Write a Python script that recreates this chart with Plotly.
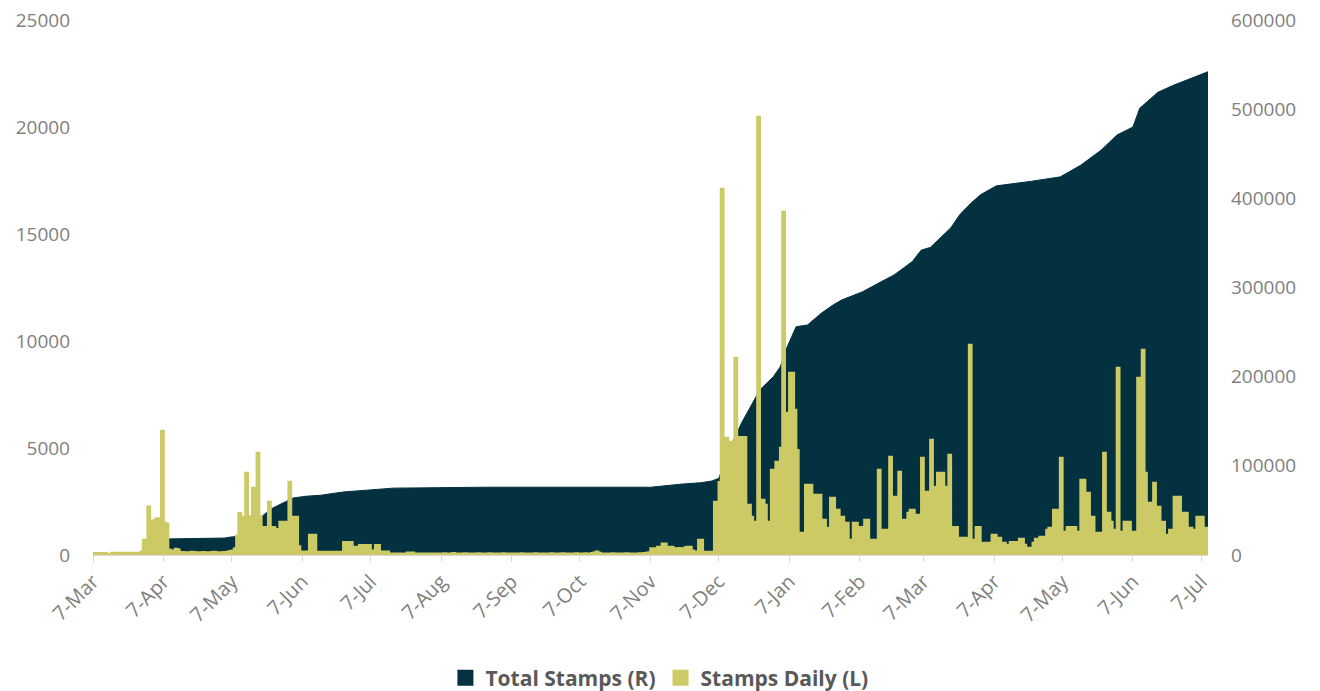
import plotly.graph_objects as go
import pandas as pd

# ─── COLOURS ──────────────────────────────────────────────────
TEAL = "#033140"
OLIVE = "#CCCA64"
TICK_GREY = "#7F7F7F"
TEXT_GREY = "#595959"
AXIS_GREY = "#D9D9D9"
FONT = "Open Sans"

# ─── DATA ─────────────────────────────────────────────────────
START_DATE = "2020-03-07"
END_DATE = "2021-07-10"

# stamps per day (left axis), one value per day from 7-Mar-2020, split by month (7th..6th)
daily_mar = [80, 80, 80, 80, 80, 80, 30, 30,
             90, 90, 90, 90, 90, 90, 90, 90, 90, 90, 90, 90, 90,
             150, 700, 700, 2250, 1600, 1600, 1650, 1700, 1700, 5800]
daily_apr = [1500, 1450, 250, 150, 200, 280, 250,
             120, 130, 120, 110, 120, 140, 130, 120, 110, 120, 130, 120,
             110, 120, 130, 140, 120, 110, 120, 130, 120, 150, 180]
daily_may = [200, 300, 900, 1950, 1780, 1780, 3830, 1800, 1300, 3130,
             3130, 4770, 1800, 1300, 1300, 1300, 2480, 1300, 1300, 1200,
             1200, 1540, 1200, 1540, 1540, 3410, 1780, 1780, 1780, 400, 150]
daily_jun = [150, 150, 150, 930, 930, 930,
             140, 140, 140, 140, 140, 140, 140, 140, 140, 140, 140, 140,
             600, 600, 600, 600, 370, 370, 370, 450, 450, 450, 300, 450]
daily_jul = [200, 200, 450, 450, 150, 150, 150, 150, 60, 60,
             60, 60, 60, 60, 60, 60, 100, 100, 100, 60,
             60, 60, 60, 60, 60, 60, 60, 60, 60, 60, 60]
daily_aug = [60, 70, 60, 50, 60, 80, 60, 60, 50, 60,
             70, 60, 60, 50, 60, 60, 70, 60, 50, 60,
             60, 70, 60, 60, 50, 60, 60, 70, 60, 60, 50]
daily_sep = [60, 60, 50, 60, 70, 60, 60, 50, 60, 60,
             70, 60, 60, 50, 60, 60, 60, 70, 60, 50,
             60, 60, 70, 60, 60, 50, 60, 60, 70, 60]
daily_oct = [60, 60, 70, 60, 60, 80, 110, 150, 90, 60,
             60, 50, 60, 60, 70, 60, 60, 50, 60, 60,
             70, 60, 60, 50, 60, 60, 70, 60, 80, 90, 120]
daily_nov = [300, 300, 300, 370, 370, 530, 530, 370, 370, 370,
             300, 250, 320, 280, 300, 350, 370, 370, 200, 150,
             150, 700, 700, 140, 140, 140, 140, 140, 2480, 2480]
daily_dec = [3400, 17100, 5470, 5470, 5280, 5280, 5280, 9200, 4300, 5500,
             5500, 5500, 2340, 2340, 1780, 1540, 1540, 20470, 2570, 2570,
             2340, 1540, 1540, 3970, 3970, 4350, 4350, 5000, 16030, 6640, 6640]
daily_jan = [8500, 8500, 6780, 4900, 1030, 1030, 370, 3270, 3270, 3270,
             2800, 2800, 2800, 2800, 1640, 1640, 1260, 1260, 2660, 2660,
             2100, 2100, 1780, 1780, 1500, 1500, 700, 700, 1500, 1500, 1260]
daily_feb = [1300, 1300, 1640, 1640, 700, 700, 700, 700, 3970, 1170,
             1170, 1170, 1170, 4580, 2710, 2710, 2710, 3880, 1640, 1640,
             1640, 1960, 2100, 2100, 1870, 1870, 1870, 4530]
daily_mar21 = [2940, 2940, 2940, 5370, 3180, 3180, 3830, 3830, 3830, 3180,
               3180, 4670, 1300, 1300, 1300, 800, 800, 800, 800, 800,
               9810, 700, 700, 1300, 1300, 560, 560, 560, 560, 560, 930]
daily_apr21 = [930, 800, 800, 560, 560, 470, 470, 600, 600, 600,
               600, 750, 750, 470, 330, 330, 330, 560, 750, 750,
               840, 840, 840, 1170, 1260, 1260, 2100, 2100, 2100, 4530]
daily_may21 = [1070, 1070, 1300, 1300, 1300, 1300, 1070, 1070, 3500, 3500,
               2900, 2900, 1780, 1780, 1030, 1030, 1030, 1030, 4770, 1960,
               1960, 1540, 1170, 1170, 8740, 1070, 1070, 1540, 1540, 1540, 1070]
daily_jun21 = [1070, 1070, 8270, 8270, 9580, 3830, 2430, 2430, 2430, 3360,
               2240, 2240, 1540, 1540, 930, 930, 1170, 1170, 2710, 2710,
               2710, 840, 1960, 1960, 1260, 1260, 1170, 1170, 1780, 1780]
daily_jul21 = [1780, 1260, 1260, 840]

stamps_daily = (daily_mar + daily_apr + daily_may + daily_jun + daily_jul
                + daily_aug + daily_sep + daily_oct + daily_nov + daily_dec
                + daily_jan + daily_feb + daily_mar21 + daily_apr21
                + daily_may21 + daily_jun21 + daily_jul21)
daily_dates = pd.date_range(START_DATE, periods=len(stamps_daily), freq="D")

total_dates = [
    "2020-04-08", "2020-05-04", "2020-05-06", "2020-05-10", "2020-05-16",
    "2020-05-21", "2020-05-25", "2020-05-29", "2020-06-03", "2020-06-09",
    "2020-06-15", "2020-06-25", "2020-07-17", "2020-08-26", "2020-11-07",
    "2020-11-21", "2020-11-29", "2020-12-04", "2020-12-07", "2020-12-12",
    "2020-12-17", "2020-12-25", "2020-12-31", "2021-01-03", "2021-01-06",
    "2021-01-10", "2021-01-15", "2021-01-21", "2021-01-26", "2021-01-30",
    "2021-02-08", "2021-02-16", "2021-02-22", "2021-03-02", "2021-03-06",
    "2021-03-10", "2021-03-15", "2021-03-19", "2021-03-23", "2021-03-28",
    "2021-04-01", "2021-04-08", "2021-04-23", "2021-05-06", "2021-05-15",
    "2021-05-24", "2021-05-31", "2021-06-07", "2021-06-10", "2021-06-18",
    "2021-06-25", "2021-07-03", "2021-07-10",
]
total_stamps = [
    18000, 19000, 20000, 21000, 33000,
    45000, 52700, 58000, 64000, 66000,
    67000, 70700, 75000, 76000, 76000,
    79600, 81000, 83000, 86000, 120000,
    148000, 185000, 200000, 211000, 233000,
    256000, 258000, 271000, 280000, 286000,
    295000, 306000, 314000, 329000, 342000,
    345000, 357000, 367000, 382000, 395000,
    404000, 414000, 419000, 424000, 437000,
    454000, 471000, 480000, 501000, 519000,
    527000, 535000, 542000,
]

# ─── FIGURE ───────────────────────────────────────────────────
fig = go.Figure()

fig.add_trace(go.Scatter(
    x=total_dates, y=total_stamps,
    yaxis="y", mode="lines", fill="tozeroy",
    line=dict(color=TEAL, width=1),
    fillcolor=TEAL,
    name="Total Stamps (R)", showlegend=False,
))
fig.add_trace(go.Scatter(
    x=daily_dates, y=stamps_daily,
    yaxis="y2", mode="lines", fill="tozeroy",
    line=dict(color=OLIVE, width=2.5, shape="hv"),
    fillcolor=OLIVE,
    name="Stamps Daily (L)", showlegend=False,
))

# legend-only entries with square swatches
for name, color in [("Total Stamps (R)", TEAL), ("Stamps Daily (L)", OLIVE)]:
    fig.add_trace(go.Scatter(
        x=[None], y=[None], mode="markers", name=name,
        marker=dict(symbol="square", size=18, color=color),
    ))

tick_font = dict(family=FONT, size=19, color=TICK_GREY)

# page body adds an 8px offset, margins below compensate for it
fig.update_layout(
    width=1320, height=691,
    paper_bgcolor="white", plot_bgcolor="white",
    margin=dict(l=85, r=120, t=12, b=144, autoexpand=False),
    font=dict(family=FONT, color=TEXT_GREY),
    xaxis=dict(
        type="date",
        range=[START_DATE, END_DATE],
        tick0=START_DATE, dtick="M1",
        tickformat="%-d-%b", tickangle=-45,
        tickfont=dict(family=FONT, size=20, color=TICK_GREY),
        showgrid=False, zeroline=False,
        showline=True, linecolor=AXIS_GREY, linewidth=1,
        ticks="outside", ticklen=6, tickcolor=AXIS_GREY,
        automargin=False,
    ),
    yaxis=dict(
        side="right", range=[0, 600000], dtick=100000,
        tickformat="d", tickfont=tick_font,
        showgrid=False, zeroline=False, showline=False,
        ticklabelstandoff=22, automargin=False,
        ticklabeloverflow="allow",
    ),
    yaxis2=dict(
        side="left", overlaying="y", range=[0, 25000], dtick=5000,
        tickformat="d", tickfont=tick_font,
        showgrid=False, zeroline=False, showline=False,
        ticklabelstandoff=22, automargin=False,
        ticklabeloverflow="allow",
    ),
    legend=dict(
        orientation="h", x=0.508, xanchor="center",
        y=-0.23, yanchor="middle",
        font=dict(family=FONT, size=21, color=TEXT_GREY, weight="bold"),
        itemsizing="trace",
    ),
)

fig.write_html("out.html")
